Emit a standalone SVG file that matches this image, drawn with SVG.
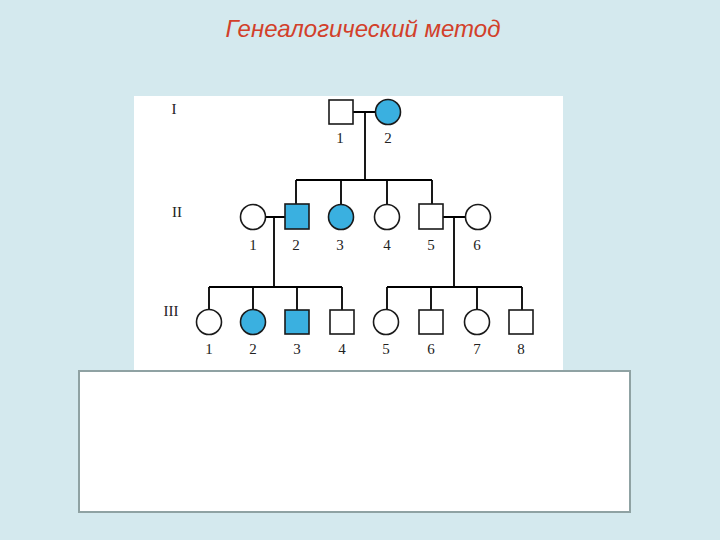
<svg xmlns="http://www.w3.org/2000/svg" width="720" height="540" viewBox="0 0 720 540">
<style>
.ln{stroke:#000;stroke-width:1.8;fill:none}
.sh{stroke:#1a1a1a;stroke-width:1.6;fill:#fff}
.af{fill:#3ab0e0}
.num{font-family:"Liberation Serif",serif;font-size:15px;fill:#222;text-anchor:middle}
.gen{font-family:"Liberation Serif",serif;font-size:15px;fill:#222;text-anchor:middle}
.title{font-family:"Liberation Sans",Arial,sans-serif;font-style:italic;font-size:24px;fill:#d2402a;text-anchor:middle}
</style>
<rect x="0" y="0" width="720" height="540" fill="#d4e9ee"/>
<text class="title" x="363" y="37">Генеалогический метод</text>
<rect x="134" y="96" width="429" height="275" fill="#ffffff"/>
<rect x="79" y="371" width="551" height="141" fill="#ffffff" stroke="#8fa2a3" stroke-width="2"/>
<g id="connectors">
<path class="ln" d="M353 112H376M365 112V180M296 180H432M296 180V204M341 180V205M387 180V205M432 180V204"/>
<path class="ln" d="M265 217H285M274 217V287M443 217H465M454 217V287"/>
<path class="ln" d="M209 287H342M209 287V310M253 287V310M297 287V310M342 287V310"/>
<path class="ln" d="M387 287H522M387 287V310M431 287V310M477 287V310M522 287V310"/>
</g>
<text class="gen" x="174" y="114">I</text>
<text class="gen" x="177" y="217">II</text>
<text class="gen" x="171" y="316">III</text>
<g id="I-1"><rect class="sh" x="329" y="100" width="24" height="24"/><text class="num" x="340" y="143">1</text></g>
<g id="I-2"><circle class="sh af" cx="388" cy="112" r="12.5"/><text class="num" x="388" y="143">2</text></g>
<g id="II-1"><circle class="sh" cx="253" cy="217" r="12.5"/><text class="num" x="253" y="250">1</text></g>
<g id="II-2"><rect class="sh af" x="285" y="204" width="24" height="25"/><text class="num" x="296" y="250">2</text></g>
<g id="II-3"><circle class="sh af" cx="341" cy="217" r="12.5"/><text class="num" x="340" y="250">3</text></g>
<g id="II-4"><circle class="sh" cx="387" cy="217" r="12.5"/><text class="num" x="387" y="250">4</text></g>
<g id="II-5"><rect class="sh" x="419" y="204" width="24" height="25"/><text class="num" x="431" y="250">5</text></g>
<g id="II-6"><circle class="sh" cx="478" cy="217" r="12.5"/><text class="num" x="477" y="250">6</text></g>
<g id="III-1"><circle class="sh" cx="209" cy="322" r="12.5"/><text class="num" x="209" y="354">1</text></g>
<g id="III-2"><circle class="sh af" cx="253" cy="322" r="12.5"/><text class="num" x="253" y="354">2</text></g>
<g id="III-3"><rect class="sh af" x="285" y="310" width="24" height="24"/><text class="num" x="297" y="354">3</text></g>
<g id="III-4"><rect class="sh" x="330" y="310" width="24" height="24"/><text class="num" x="342" y="354">4</text></g>
<g id="III-5"><circle class="sh" cx="386" cy="322" r="12.5"/><text class="num" x="386" y="354">5</text></g>
<g id="III-6"><rect class="sh" x="419" y="310" width="24" height="24"/><text class="num" x="431" y="354">6</text></g>
<g id="III-7"><circle class="sh" cx="477" cy="322" r="12.5"/><text class="num" x="477" y="354">7</text></g>
<g id="III-8"><rect class="sh" x="509" y="310" width="24" height="24"/><text class="num" x="521" y="354">8</text></g>
</svg>
